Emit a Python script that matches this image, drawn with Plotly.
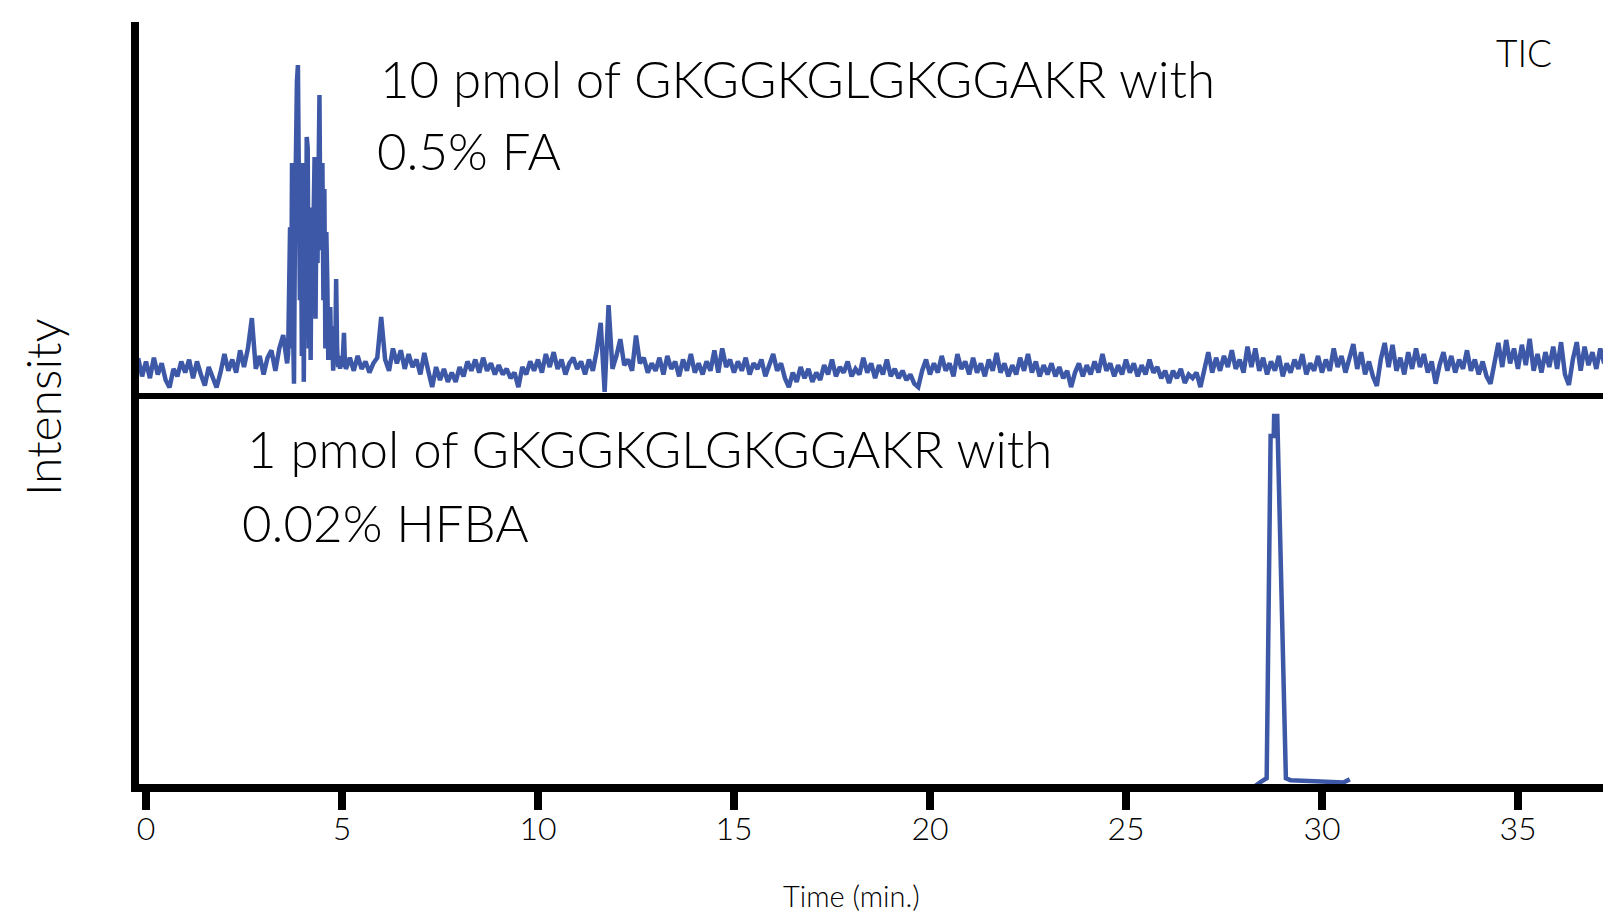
import plotly.graph_objects as go
from plotly.subplots import make_subplots

# ---------------- data (relative TIC intensity, % of panel height) ----------------
# Top panel: 10 pmol of GKGGKGLGKGGAKR with 0.5% FA
FA_PRE_T0 = -0.2      # min
FA_PRE_DT = 0.1
FA_PRE_I = [9.4, 4.5, 8.5, 4.0, 9.5, 5.0, 8.0, 3.5, 1.5, 6.5,
            4.5, 8.5, 5.5, 9.0, 4.0, 8.5, 5.0, 2.0, 7.0, 4.5,
            1.5, 5.5, 10.5, 6.0, 9.0, 5.5, 11.5, 7.0, 12.0, 20.2,
            6.5, 10.0, 5.0, 9.5, 11.5, 6.0, 12.0, 15.6]

FA_PEAK_T0 = 3.6
FA_PEAK_DT = 0.025
FA_PEAK_I = [8.0, 10.5, 25.0, 44.7, 12.0, 62.0, 18.0, 2.5, 45.0, 70.0,
             84.0, 88.4, 60.0, 25.0, 55.0, 10.0, 62.0, 3.0, 40.0, 20.0,
             69.0, 66.0, 12.0, 50.0, 8.9, 45.0, 30.0, 58.0, 63.6, 20.0,
             55.0, 35.0, 72.0, 80.3, 38.5, 58.2, 62.0, 25.0, 55.0, 12.0,
             43.4, 30.0, 8.9, 20.0, 23.2, 9.0, 15.0, 6.0, 18.0, 8.0,
             30.7, 12.0, 7.0, 10.0, 6.5, 9.5, 7.0, 10.5, 16.2, 8.0, 6.5]

FA_POST_T0 = 5.2
FA_POST_DT = 0.1
FA_POST_I = [
    9.5, 6.0, 10.0, 6.5, 8.5, 5.5, 8.0, 9.5, 20.5, 9.0,
    6.0, 12.0, 8.0, 11.5, 6.5, 10.5, 7.0, 9.0, 5.0, 10.8,
    6.0, 1.6, 7.0, 3.5, 6.5, 3.0, 5.5, 3.0, 7.0, 4.5,
    8.5, 6.0, 9.0, 5.5, 9.5, 6.0, 8.0, 5.0, 7.5, 5.0,
    6.5, 4.0, 5.5, 1.6, 7.0, 5.0, 8.5, 6.0, 9.0, 5.5,
    10.5, 7.0, 11.0, 6.5, 9.0, 5.0, 8.0, 9.5, 6.5, 8.5,
    5.0, 9.0, 6.0, 11.5, 18.9, 0.3, 23.7, 6.5, 10.0, 14.5,
    7.5, 9.0, 6.0, 15.5, 8.0, 9.5, 5.5, 8.0, 6.0, 9.5,
    5.0, 10.0, 6.5, 8.5, 4.5, 9.0, 6.0, 10.5, 5.5, 8.0,
    5.0, 8.5, 6.0, 11.5, 5.5, 12.0, 7.0, 9.0, 5.5, 8.5,
    6.0, 9.5, 5.0, 8.0, 6.5, 9.0, 4.5, 7.5, 10.5, 6.0,
    8.0, 4.0, 1.6, 5.5, 3.0, 7.0, 4.0, 6.5, 3.0, 5.5,
    3.5, 7.5, 5.0, 9.0, 4.5, 7.0, 5.5, 8.5, 4.5, 6.5,
    5.0, 9.5, 5.5, 8.0, 4.0, 7.5, 5.0, 9.0, 4.5, 6.5,
    4.0, 6.0, 3.5, 5.0, 2.5, 1.6, 6.0, 9.0, 5.0, 8.0,
    5.5, 10.0, 6.0, 8.0, 4.5, 10.5, 6.5, 8.5, 5.0, 9.5,
    5.5, 8.0, 4.5, 9.0, 6.0, 10.8, 5.5, 8.0, 4.5, 7.5,
    5.0, 9.5, 6.0, 10.5, 5.5, 8.5, 4.5, 7.5, 5.0, 8.0,
    4.5, 7.0, 4.0, 6.0, 1.6, 5.5, 8.0, 4.5, 7.5, 5.0,
    8.5, 5.5, 10.5, 6.0, 8.0, 4.5, 7.5, 5.0, 9.0, 5.5,
    8.0, 4.5, 7.5, 5.0, 9.0, 5.5, 7.0, 4.0, 6.0, 2.7,
    6.0, 4.0, 6.5, 2.7, 5.0, 4.0, 5.5, 1.6, 7.0, 11.0,
    5.5, 9.5, 6.0, 10.0, 7.0, 11.5, 6.5, 9.0, 5.5, 12.5,
    7.0, 12.0, 6.0, 9.5, 5.0, 8.5, 6.0, 10.0, 4.5, 8.0,
    5.5, 9.0, 6.5, 10.5, 5.0, 8.0, 6.0, 10.0, 5.5, 9.0,
    6.0, 12.0, 7.0, 10.0, 5.5, 9.0, 13.2, 6.5, 11.0, 5.0,
    8.5, 4.5, 1.9, 9.0, 13.5, 7.0, 13.0, 6.0, 9.5, 5.0,
    11.0, 6.5, 12.0, 7.0, 10.5, 5.5, 8.5, 2.5, 7.5, 11.0,
    6.0, 10.0, 5.5, 9.0, 6.5, 11.5, 6.0, 9.0, 5.0, 8.5,
    4.5, 2.5, 8.0, 13.5, 7.0, 14.3, 8.0, 12.0, 6.5, 13.0,
    7.5, 14.6, 6.0, 10.5, 5.5, 11.0, 7.0, 12.5, 6.5, 13.7,
    5.0, 2.2, 9.0, 13.7, 6.0, 12.5, 7.5, 11.0, 6.5, 12.0, 8.0]

# Bottom panel: 1 pmol of GKGGKGLGKGGAKR with 0.02% HFBA
HFBA_T = [28.10, 28.30, 28.45, 28.59, 28.69, 28.77, 28.78, 28.86, 29.08,
          29.20, 29.60, 30.00, 30.35, 30.55, 30.71]
HFBA_I = [-2.0, -0.3, 0.6, 1.5, 90.4, 90.4, 95.6, 95.6, 1.5,
          1.0, 0.8, 0.5, 0.3, 0.4, 1.2]

TICK_VALUES = [0, 5, 10, 15, 20, 25, 30, 35]
TICK_LABELS = ["0", "5", "10", "15", "20", "25", "30", "35"]
X_RANGE = [-0.179, 37.17]
Y_RANGE = [0, 100]

LABEL_TOP = ["10 pmol of GKGGKGLGKGGAKR with", "0.5% FA"]
LABEL_BOTTOM = ["1 pmol of GKGGKGLGKGGAKR with", "0.02% HFBA"]

# ---------------- build series ----------------
def grid(t0, dt, values):
    return [round(t0 + dt * i, 4) for i in range(len(values))]

fa_t = (grid(FA_PRE_T0, FA_PRE_DT, FA_PRE_I)
        + grid(FA_PEAK_T0, FA_PEAK_DT, FA_PEAK_I)
        + grid(FA_POST_T0, FA_POST_DT, FA_POST_I))
fa_i = FA_PRE_I + FA_PEAK_I + FA_POST_I

BLUE = "#3D58A7"
FONT = "Lato, 'Open Sans', sans-serif"
W, H = 1603, 912
PLOT_L = 139      # left edge of plotting area, px

fig = make_subplots(rows=2, cols=1, shared_xaxes=True, vertical_spacing=0)
fig.add_trace(go.Scatter(x=fa_t, y=fa_i, mode="lines",
                         line=dict(color=BLUE, width=4.5), showlegend=False),
              row=1, col=1)
fig.add_trace(go.Scatter(x=HFBA_T, y=HFBA_I, mode="lines",
                         line=dict(color=BLUE, width=4.5), showlegend=False),
              row=2, col=1)

def py(pix):
    return 1 - pix / H

def px(pix):
    return (pix - PLOT_L) / (W - PLOT_L)

axis_common = dict(showgrid=False, zeroline=False, linecolor="black", mirror=False)
fig.update_layout(
    width=W, height=H,
    margin=dict(l=PLOT_L, r=0, t=0, b=0, autoexpand=False),
    paper_bgcolor="white", plot_bgcolor="white",
    font=dict(family=FONT, color="black", weight=300),
    xaxis=dict(range=X_RANGE, showline=True, linewidth=6, ticks="",
               showticklabels=False, **axis_common),
    yaxis=dict(domain=[py(393), py(22)], range=Y_RANGE, showline=True,
               linewidth=8, ticks="", showticklabels=False, **axis_common),
    xaxis2=dict(range=X_RANGE, showline=True, linewidth=8, ticks="outside",
                ticklen=18, tickwidth=8, tickcolor="black",
                tickvals=TICK_VALUES, ticktext=TICK_LABELS,
                ticklabelstandoff=-8,
                tickfont=dict(family=FONT, size=32, color="black", weight=300),
                **axis_common),
    yaxis2=dict(domain=[py(784), py(399)], range=Y_RANGE, showline=True,
                linewidth=8, ticks="", showticklabels=False, **axis_common),
)

def note(text, x, y, size, xanchor="left", yanchor="top", angle=0):
    fig.add_annotation(text=text, x=x, y=y, xref="paper", yref="paper",
                       xanchor=xanchor, yanchor=yanchor, align="left",
                       showarrow=False, textangle=angle,
                       font=dict(family=FONT, size=size, color="black", weight=300))

note(LABEL_TOP[0], px(378), py(45.5), 51)
note(LABEL_TOP[1], px(375), py(117.5), 51)
note(LABEL_BOTTOM[0], px(244.5), py(415.5), 51)
note(LABEL_BOTTOM[1], px(240), py(489.5), 51)
note("TIC", px(1494), py(28), 37)
note("Intensity", px(42), py(407), 48, xanchor="center", yanchor="middle", angle=-90)
note("Time (min.)", px(851), py(895), 29, xanchor="center", yanchor="middle")

fig.write_html("out.html", config={"displayModeBar": False},
               post_script="document.body.style.margin='0';")
